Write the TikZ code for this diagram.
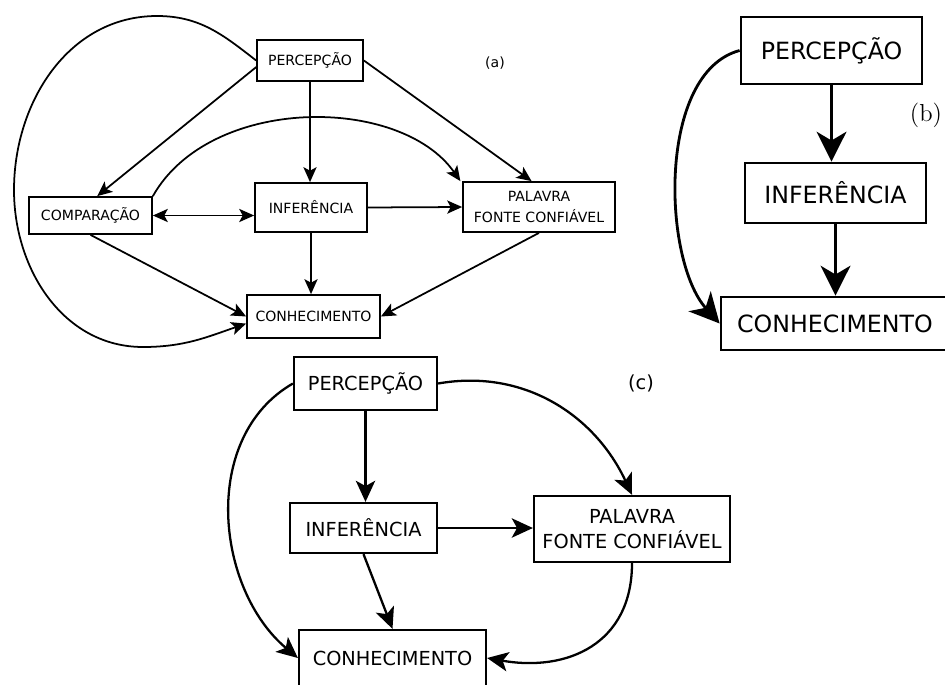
\documentclass[tikz,border=0pt]{standalone}
\usepackage{fontspec}
\setsansfont{DejaVu Sans}
\usetikzlibrary{arrows.meta}

\begin{document}
\begin{tikzpicture}[x=0.02cm, y=0.02cm,
    box/.style={draw, inner sep=0pt, align=center},
    boxa/.style={box, line width=1pt, font=\sffamily\fontsize{8}{11.5}\selectfont},
    boxb/.style={box, line width=1.6pt, font=\sffamily\fontsize{13.5}{16}\selectfont},
    boxc/.style={box, line width=1.3pt, font=\sffamily\fontsize{11}{14.5}\selectfont},
    arra/.style={-{Stealth[length=8.5pt,width=7.5pt,inset=2pt]}, line width=1pt},
    arrda/.style={{Stealth[length=8.5pt,width=7.5pt,inset=2pt]}-{Stealth[length=8.5pt,width=7.5pt,inset=2pt]}, line width=1pt},
    arrb/.style={-{Stealth[length=17pt,width=17pt,inset=5pt]}, line width=1.6pt},
    arrc/.style={-{Stealth[length=12pt,width=11pt,inset=3pt]}, line width=1.3pt}
]
\useasboundingbox (0,0) rectangle (945,684);

\node[boxa, minimum width=2.12cm, minimum height=0.82cm] (percA) at (310,623.5) {PERCEPÇÃO};
\node[boxa, minimum width=2.46cm, minimum height=0.74cm] (compA) at (90.5,468.5) {COMPARAÇÃO};
\node[boxa, minimum width=2.24cm, minimum height=0.98cm] (infA) at (311,476.5) {INFERÊNCIA};
\node[boxa, minimum width=3.04cm, minimum height=1.0cm] (palA) at (539,477) {PALAVRA\\FONTE CONFIÁVEL};
\node[boxa, minimum width=2.66cm, minimum height=0.86cm] (conA) at (313.5,367.5) {CONHECIMENTO};
\node[font=\sffamily\fontsize{8}{9}\selectfont] (labA) at (495,621) {(a)};

\node[boxb, minimum width=3.62cm, minimum height=1.34cm] (percB) at (831.5,633.5) {PERCEPÇÃO};
\node[boxb, minimum width=3.62cm, minimum height=1.2cm] (infB) at (835.5,491) {INFERÊNCIA};
\node[boxb, minimum width=4.56cm, minimum height=1.06cm] (conB) at (835,360.5) {CONHECIMENTO};
\node[font=\fontsize{14}{16}\selectfont] (labB) at (926,569) {(b)};

\node[boxc, minimum width=2.86cm, minimum height=1.06cm] (percC) at (365.5,300.5) {PERCEPÇÃO};
\node[boxc, minimum width=2.94cm, minimum height=1.0cm] (infC) at (363.5,156) {INFERÊNCIA};
\node[boxc, minimum width=3.92cm, minimum height=1.32cm] (palC) at (632,155) {PALAVRA\\FONTE CONFIÁVEL};
\node[boxc, minimum width=3.74cm, minimum height=1.12cm] (conC) at (392.5,26) {CONHECIMENTO};
\node[font=\sffamily\fontsize{11}{13}\selectfont] (labC) at (641,301) {(c)};

\draw[arra] (percA.187) -- (compA.71);
\draw[arra] (percA.south) -- (percA.south |- infA.north);
\draw[arra] (percA.east) -- (palA.106);
\draw[arra] (compA.north east) .. controls (210,589) and (400,589) .. ([xshift=-1pt]palA.north west);
\draw[arrda] (compA.east) -- (compA.east -| infA.west);
\draw[arra] (infA.east) -- (palA.west);
\draw[arra] (compA.south) -- (conA.west);
\draw[arra] (infA.south) -- (infA.south |- conA.north);
\draw[arra] (palA.south) -- (conA.east);
\draw[arra] (percA.west) to[out=142,in=0] (157,668) to[out=180,in=90] (14,494)
    to[out=270,in=180] (143,337) to[out=0,in=199] (conA.186);

\draw[arrb] (percB.south) -- (percB.south |- infB.north);
\draw[arrb] (infB.south) -- (infB.south |- conB.north);
\draw[arrb] (percB.west) to[out=195,in=132,looseness=0.8] (conB.west);

\draw[arrc] (percC.south) -- (percC.south |- infC.north);
\draw[arrc] (infC.east) -- (infC.east -| palC.west);
\draw[arrc] (infC.south) -- (conC.north);
\draw[arrc] (percC.east) to[out=10,in=115] (palC.north);
\draw[arrc] (percC.west) to[out=210,in=140] (conC.west);
\draw[arrc] (palC.south) to[out=270,in=350,looseness=1.2] (conC.east);
\end{tikzpicture}
\end{document}
